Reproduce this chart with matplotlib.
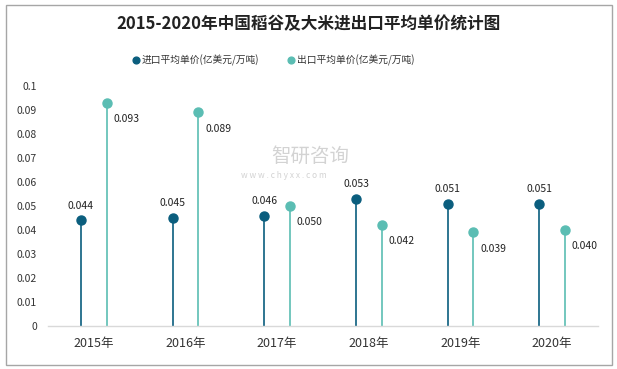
import matplotlib
matplotlib.use("Agg")
import matplotlib.pyplot as plt
import numpy as np
from matplotlib.patches import Rectangle

plt.rcParams['font.family'] = ['Noto Sans CJK SC', 'DejaVu Sans']

years = ["2015年", "2016年", "2017年", "2018年", "2019年", "2020年"]
import_price = [0.044, 0.045, 0.046, 0.053, 0.051, 0.051]
export_price = [0.093, 0.089, 0.050, 0.042, 0.039, 0.040]
series_names = ["进口平均单价(亿美元/万吨)", "出口平均单价(亿美元/万吨)"]
title = "2015-2020年中国稻谷及大米进出口平均单价统计图"

c_imp = "#0b5e7e"
c_exp = "#5bbdb3"

fig = plt.figure(figsize=(6.17, 3.69), dpi=100)
ax = fig.add_axes([48/617, 1-326/369, 550/617, 240/369])

x = np.arange(len(years))
off = 0.14
xi = x - off
xe = x + off

ax.vlines(xi, 0, import_price, color=c_imp, lw=1.2)
ax.vlines(xe, 0, export_price, color=c_exp, lw=1.2)
ax.plot(xi, import_price, 'o', color=c_imp, ms=6.5, label=series_names[0])
ax.plot(xe, export_price, 'o', color=c_exp, ms=6.5, label=series_names[1])

for xx, v in zip(xi, import_price):
    ax.annotate(f"{v:.3f}", (xx, v), xytext=(0, 7), textcoords='offset points',
                ha='center', va='bottom', fontsize=7.5, color='#222222')
for xx, v in zip(xe, export_price):
    ax.annotate(f"{v:.3f}", (xx, v), xytext=(5, -8), textcoords='offset points',
                ha='left', va='top', fontsize=7.5, color='#222222')

ax.set_xlim(-0.5, len(years) - 0.5)
ax.set_ylim(0, 0.1)
ax.set_xticks(x)
ax.set_xticklabels(years, fontsize=9, color='#333333')
yt = np.round(np.arange(0, 0.1001, 0.01), 2)
ax.set_yticks(yt)
ax.set_yticklabels(["0" if v == 0 else f"{v:g}" for v in yt], fontsize=7.5, color='#333333')
ax.tick_params(axis='both', length=0)
ax.tick_params(axis='y', pad=8)
ax.tick_params(axis='x', pad=8)
for s in ['top', 'right', 'left']:
    ax.spines[s].set_visible(False)
ax.spines['bottom'].set_color('#d9d9d9')
ax.spines['bottom'].set_linewidth(1)

fig.text(0.5, 1-24/369, title, ha='center', va='center', fontsize=12, fontweight='bold', color='#222222')

leg = fig.legend(loc='center left', bbox_to_anchor=(124/617, 1-60/369), ncol=2, frameon=False,
                 fontsize=7, handlelength=0.6, handletextpad=0.3, columnspacing=3.0,
                 markerscale=0.75)
for t in leg.get_texts():
    t.set_color('#333333')

# watermark
fig.text(0.44, 1-156/369, "智研咨询", ha='left', va='center', fontsize=14, color='#c8c8c8', alpha=0.8)
fig.text(0.39, 1-175/369, "w w w . c h y x x . c o m", ha='left', va='center', fontsize=6, color='#c8c8c8', alpha=0.8)

fig.patches.append(Rectangle((6/617, 4/369), 606/617, 360/369, transform=fig.transFigure,
                             fill=False, edgecolor='#a6a6a6', lw=1))

fig.savefig("out.png", dpi=100)
